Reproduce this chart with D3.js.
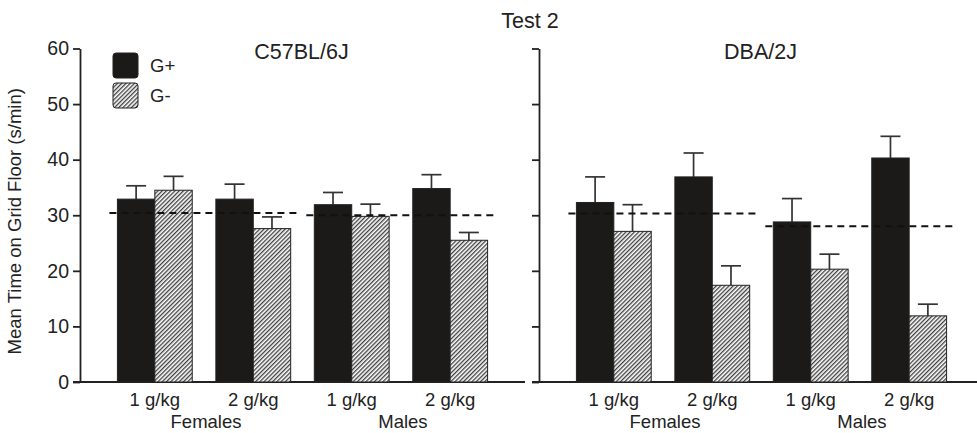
<!DOCTYPE html>
<html>
<head>
<meta charset="utf-8">
<script src="https://cdn.jsdelivr.net/npm/d3@7"></script>
<style>
  body { margin: 0; background: #fff; }
  svg { font-family: "Liberation Sans", Arial, sans-serif; }
</style>
</head>
<body>
<svg id="chart" width="977" height="433"></svg>
<script>
// values (mean, SEM in s/min)
var doses = ['1 g/kg', '2 g/kg', '1 g/kg', '2 g/kg']
var sexes = ['Females', 'Males']
var series = ['G+', 'G-']
var strains = ['C57BL/6J', 'DBA/2J']
var yTicks = [0, 10, 20, 30, 40, 50, 60]

var c57GPlus = [32.9, 32.9, 31.9, 34.8]
var c57GPlusSem = [2.4, 2.7, 2.2, 2.5]
var c57GMinus = [34.5, 27.6, 29.8, 25.5]
var c57GMinusSem = [2.5, 2.1, 2.2, 1.4]
var c57Saline = [30.4, 30.0]

var dbaGPlus = [32.3, 36.9, 28.8, 40.3]
var dbaGPlusSem = [4.6, 4.3, 4.2, 3.9]
var dbaGMinus = [27.1, 17.4, 20.3, 11.9]
var dbaGMinusSem = [4.8, 3.5, 2.7, 2.1]
var dbaSaline = [30.3, 28.0]

var panelData = [
  { plus: c57GPlus, plusSem: c57GPlusSem, minus: c57GMinus, minusSem: c57GMinusSem, saline: c57Saline },
  { plus: dbaGPlus, plusSem: dbaGPlusSem, minus: dbaGMinus, minusSem: dbaGMinusSem, saline: dbaSaline }
]

var svg = d3.select('#chart')
var ink = '#1c1a18'

var defs = svg.append('defs')
var pat = defs.append('pattern')
  .attr('id', 'hatch')
  .attr('patternUnits', 'userSpaceOnUse')
  .attr('width', 3)
  .attr('height', 3)
  .attr('patternTransform', 'rotate(45)')
pat.append('rect').attr('width', 3).attr('height', 3).attr('fill', '#fff')
pat.append('line')
  .attr('x1', 0.7).attr('y1', 0).attr('x2', 0.7).attr('y2', 3)
  .attr('stroke', '#2a2a2a').attr('stroke-width', 1.2)

var y = d3.scaleLinear().domain([0, 60]).range([382, 48.5])
var panelLeft = [80, 539]
var panelWidth = 445

svg.append('text')
  .attr('x', 530).attr('y', 28)
  .attr('text-anchor', 'middle')
  .attr('font-size', 21.5)
  .attr('fill', '#222')
  .text('Test 2')

svg.append('text')
  .attr('transform', 'translate(21,' + (y(30) + 6) + ') rotate(-90)')
  .attr('text-anchor', 'middle')
  .attr('font-size', 18.5)
  .attr('fill', '#222')
  .text('Mean Time on Grid Floor (s/min)')

panelLeft.forEach(function (x0, p) {
  var d = panelData[p]
  var g = svg.append('g')

  var x = d3.scaleBand()
    .domain(d3.range(doses.length))
    .range([x0, x0 + panelWidth])
    .paddingInner(0.24)
    .paddingOuter(0.38)
  var xs = d3.scaleBand().domain(series).range([0, x.bandwidth()])

  // y axis
  var axis = d3.axisLeft(y).tickValues(yTicks).tickSize(7).tickSizeOuter(0).tickPadding(4)
  if (p === 1) axis.tickFormat('')
  var ax = g.append('g')
    .attr('transform', 'translate(' + x0 + ',0)')
    .call(axis)
  ax.select('.domain').attr('stroke', '#222').attr('stroke-width', 1.8)
  ax.selectAll('.tick line').attr('stroke', '#222').attr('stroke-width', 1.8)
  ax.selectAll('.tick text')
    .attr('font-size', 19.5)
    .attr('font-family', '"Liberation Sans", Arial, sans-serif')
    .attr('fill', '#222')

  // baseline
  g.append('line')
    .attr('x1', x0 - 7).attr('x2', x0 + panelWidth)
    .attr('y1', y(0)).attr('y2', y(0))
    .attr('stroke', '#222').attr('stroke-width', 1.8)

  var rows = d3.range(doses.length).map(function (i) {
    return [
      { i: i, s: 'G+', v: d.plus[i], e: d.plusSem[i] },
      { i: i, s: 'G-', v: d.minus[i], e: d.minusSem[i] }
    ]
  })
  var flat = d3.merge(rows)

  // error bars (upper only)
  var eb = g.selectAll('.err').data(flat).enter().append('g').attr('class', 'err')
  eb.append('line')
    .attr('x1', function (r) { return x(r.i) + xs(r.s) + xs.bandwidth() / 2 })
    .attr('x2', function (r) { return x(r.i) + xs(r.s) + xs.bandwidth() / 2 })
    .attr('y1', function (r) { return y(r.v) })
    .attr('y2', function (r) { return y(r.v + r.e) })
    .attr('stroke', '#333').attr('stroke-width', 1.7)
  eb.append('line')
    .attr('x1', function (r) { return x(r.i) + xs(r.s) + xs.bandwidth() / 2 - 10 })
    .attr('x2', function (r) { return x(r.i) + xs(r.s) + xs.bandwidth() / 2 + 10 })
    .attr('y1', function (r) { return y(r.v + r.e) })
    .attr('y2', function (r) { return y(r.v + r.e) })
    .attr('stroke', '#333').attr('stroke-width', 1.7)

  // bars
  g.selectAll('.bar').data(flat).enter().append('rect')
    .attr('class', 'bar')
    .attr('x', function (r) { return x(r.i) + xs(r.s) })
    .attr('y', function (r) { return y(r.v) })
    .attr('width', xs.bandwidth())
    .attr('height', function (r) { return y(0) - y(r.v) })
    .attr('fill', function (r) { return r.s === 'G+' ? ink : 'url(#hatch)' })
    .attr('stroke', '#222')
    .attr('stroke-width', 1)

  // saline reference lines, one per sex
  g.selectAll('.ref').data(d.saline).enter().append('line')
    .attr('x1', function (v, k) { return x(k * 2) - 8 })
    .attr('x2', function (v, k) { return x(k * 2 + 1) + x.bandwidth() + 7 })
    .attr('y1', function (v) { return y(v) })
    .attr('y2', function (v) { return y(v) })
    .attr('stroke', '#111').attr('stroke-width', 2)
    .attr('stroke-dasharray', '7,5')

  // dose labels
  g.selectAll('.dose').data(doses).enter().append('text')
    .attr('x', function (t, i) { return x(i) + x.bandwidth() / 2 })
    .attr('y', 406)
    .attr('text-anchor', 'middle')
    .attr('font-size', 18.5)
    .attr('fill', '#222')
    .text(function (t) { return t })

  g.selectAll('.sex').data(sexes).enter().append('text')
    .attr('x', function (t, k) { return (x(k * 2) + x(k * 2 + 1) + x.bandwidth()) / 2 + 2 })
    .attr('y', 428)
    .attr('text-anchor', 'middle')
    .attr('font-size', 18.5)
    .attr('fill', '#222')
    .text(function (t) { return t })

  g.append('text')
    .attr('x', x0 + panelWidth / 2 - 1)
    .attr('y', 59)
    .attr('text-anchor', 'middle')
    .attr('font-size', 21.5)
    .attr('fill', '#222')
    .text(strains[p])
})

// legend
var leg = svg.append('g').attr('transform', 'translate(113,53)')
series.forEach(function (s, k) {
  leg.append('rect')
    .attr('x', 0).attr('y', k * 30)
    .attr('width', 25).attr('height', 25)
    .attr('rx', 3)
    .attr('fill', k === 0 ? ink : 'url(#hatch)')
    .attr('stroke', '#222').attr('stroke-width', 1)
  leg.append('text')
    .attr('x', 37).attr('y', k * 30 + 19)
    .attr('font-size', 18.5)
    .attr('fill', '#222')
    .text(s)
})
</script>
</body>
</html>
